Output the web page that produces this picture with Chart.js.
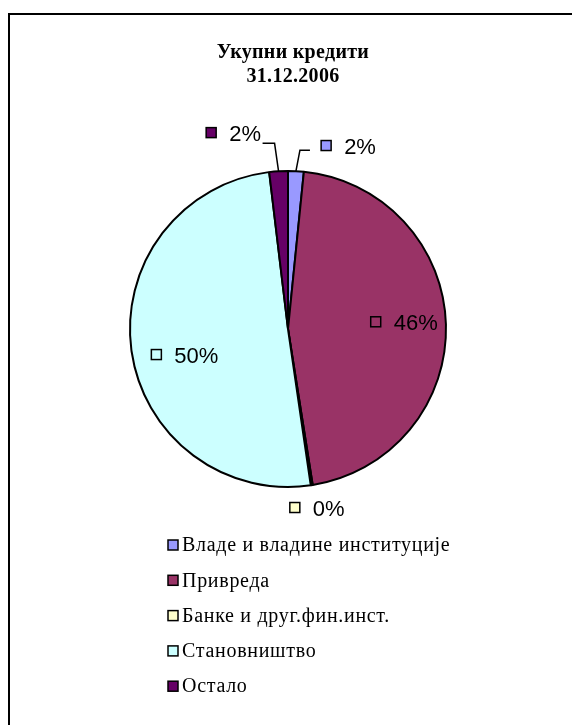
<!DOCTYPE html>
<html>
<head>
<meta charset="utf-8">
<script src="https://cdn.jsdelivr.net/npm/chart.js@4.4.1/dist/chart.umd.min.js"></script>
<style>
  html, body { margin: 0; padding: 0; background: #fff; }
  #wrap { width: 572px; height: 725px; }
</style>
</head>
<body>
<div id="wrap"><canvas id="c" width="572" height="725"></canvas></div>
<script>
// Loan structure, share of total (%)
const categories = [
  'Владе и владине институције',
  'Привреда',
  'Банке и друг.фин.инст.',
  'Становништво',
  'Остало'
];
const shares = [1.6, 45.9, 0.2, 50.4, 1.9];
const sliceColors = ['#9999FF', '#993366', '#FFFFCC', '#CCFFFF', '#660066'];
const titleLines = ['Укупни кредити', '31.12.2006'];

// Where each percentage label sits: r = fraction of radius along the slice mid-angle,
// dx/dy = nudge of the key box centre; leader = elbow offset from the rim and run length.
const labelPlacement = [
  { r: 1.15, dx: 29,  dy: -2,  leader: { ex: 4,  ey: -21, len: 10 } },
  { r: 0.72, dx: -26, dy: -4 },
  { r: 1.13, dx: -20, dy: 2 },
  { r: 0.70, dx: -22, dy: 11 },
  { r: 1.15, dx: -66, dy: -15, leader: { ex: -4, ey: -28, len: -12 } }
];

const frame = {
  id: 'frame',
  beforeDraw(chart) {
    const ctx = chart.ctx;
    ctx.save();
    ctx.fillStyle = '#fff';
    ctx.fillRect(0, 0, chart.width, chart.height);
    ctx.strokeStyle = '#000';
    ctx.lineWidth = 2;
    ctx.strokeRect(9, 14, 700, 900);
    // title
    ctx.fillStyle = '#000';
    ctx.textAlign = 'center';
    ctx.textBaseline = 'middle';
    ctx.font = 'bold 20px "Liberation Serif", "Times New Roman", serif';
    ctx.letterSpacing = '0.3px';
    ctx.fillText(titleLines[0], 293, 53);
    ctx.fillText(titleLines[1], 293, 77);
    ctx.restore();
  }
};

const sliceLabels = {
  id: 'sliceLabels',
  afterDatasetsDraw(chart) {
    const ctx = chart.ctx;
    const ds = chart.data.datasets[0];
    const total = ds.data.reduce((a, b) => a + b, 0);
    const meta = chart.getDatasetMeta(0);
    ctx.save();
    meta.data.forEach((arc, i) => {
      const p = arc.getProps(['x', 'y', 'startAngle', 'endAngle', 'outerRadius'], true);
      const mid = (p.startAngle + p.endAngle) / 2;
      const ux = Math.cos(mid), uy = Math.sin(mid);
      const pl = labelPlacement[i];
      const bx = p.x + ux * p.outerRadius * pl.r + pl.dx;
      const by = p.y + uy * p.outerRadius * pl.r + pl.dy;

      if (pl.leader) {
        const rx = p.x + ux * p.outerRadius;
        const ry = p.y + uy * p.outerRadius;
        const exx = rx + pl.leader.ex, eyy = ry + pl.leader.ey;
        ctx.strokeStyle = '#000';
        ctx.lineWidth = 1.5;
        ctx.beginPath();
        ctx.moveTo(rx, ry);
        ctx.lineTo(exx, eyy);
        ctx.lineTo(exx + pl.leader.len, eyy);
        ctx.stroke();
      }

      // key box in the slice colour
      const s = 10;
      ctx.fillStyle = ds.backgroundColor[i];
      ctx.fillRect(bx - s / 2, by - s / 2, s, s);
      ctx.strokeStyle = '#000';
      ctx.lineWidth = 1.5;
      ctx.strokeRect(bx - s / 2, by - s / 2, s, s);

      const pct = Math.round(ds.data[i] / total * 100) + '%';
      ctx.fillStyle = '#000';
      ctx.font = '22px "Liberation Sans", Arial, sans-serif';
      ctx.textAlign = 'left';
      ctx.textBaseline = 'middle';
      ctx.fillText(pct, bx + 18, by + 2);
    });
    ctx.restore();
  }
};

const legendBlock = {
  id: 'legendBlock',
  afterDraw(chart) {
    const ctx = chart.ctx;
    const ds = chart.data.datasets[0];
    ctx.save();
    chart.data.labels.forEach((lab, i) => {
      const y = 545 + i * 35.3;
      ctx.fillStyle = ds.backgroundColor[i];
      ctx.fillRect(168, y - 5, 10, 10);
      ctx.strokeStyle = '#000';
      ctx.lineWidth = 1.5;
      ctx.strokeRect(168, y - 5, 10, 10);
      ctx.fillStyle = '#000';
      ctx.font = '20px "Liberation Serif", "Times New Roman", serif';
      ctx.letterSpacing = '0.7px';
      ctx.textAlign = 'left';
      ctx.textBaseline = 'middle';
      ctx.fillText(lab, 182, y + 1);
    });
    ctx.restore();
  }
};

new Chart(document.getElementById('c'), {
  type: 'pie',
  data: {
    labels: categories,
    datasets: [{
      data: shares,
      backgroundColor: sliceColors,
      borderColor: '#000',
      borderWidth: 2
    }]
  },
  options: {
    responsive: false,
    animation: false,
    layout: { padding: { left: 129, right: 125, top: 170, bottom: 237 } },
    plugins: { legend: { display: false }, tooltip: { enabled: false }, title: { display: false } }
  },
  plugins: [frame, sliceLabels, legendBlock]
});
</script>
</body>
</html>
